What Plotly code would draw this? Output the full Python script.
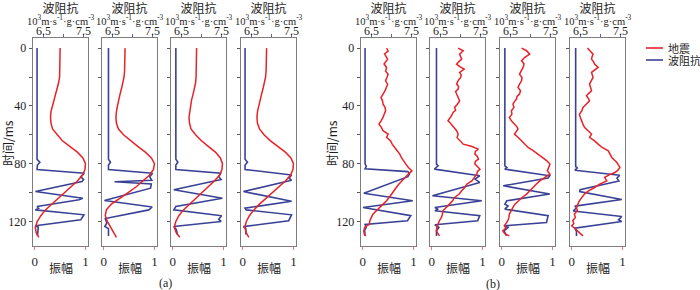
import plotly.graph_objects as go

# ---------------- data ----------------
# (a) seismic traces (amplitude) on a common time grid (ms)
A_T = [0, 4, 8, 12, 16, 20, 24, 28, 32, 36, 40, 44, 48, 52, 56, 60, 64, 68, 72, 76,
       80, 84, 88, 92, 96, 100, 104, 108, 112, 116, 120, 124, 128, 131]
A1_SEIS = [0.50, 0.50, 0.50, 0.50, 0.50, 0.49, 0.47, 0.44, 0.41, 0.37, 0.34, 0.32, 0.31, 0.32, 0.35, 0.44, 0.54,
           0.69, 0.84, 0.95, 1.00, 0.99, 0.94, 0.84, 0.71, 0.58, 0.45, 0.33, 0.21, 0.12, 0.05, 0.01, 0.03, 0.08]
A2_SEIS = [0.42, 0.42, 0.42, 0.42, 0.41, 0.40, 0.38, 0.35, 0.32, 0.29, 0.27, 0.25, 0.24, 0.25, 0.29, 0.39, 0.52,
           0.67, 0.82, 0.94, 1.00, 0.98, 0.90, 0.78, 0.64, 0.48, 0.31, 0.15, 0.05, 0.03, 0.07, 0.13, 0.20, 0.25]
A3_SEIS = [0.47, 0.47, 0.47, 0.47, 0.47, 0.46, 0.45, 0.43, 0.40, 0.37, 0.35, 0.33, 0.32, 0.33, 0.36, 0.45, 0.56,
           0.70, 0.84, 0.94, 0.98, 0.97, 0.92, 0.82, 0.70, 0.57, 0.44, 0.32, 0.21, 0.12, 0.06, 0.03, 0.07, 0.14]
A4_SEIS = [0.47, 0.47, 0.47, 0.47, 0.46, 0.45, 0.43, 0.40, 0.37, 0.34, 0.31, 0.29, 0.28, 0.29, 0.33, 0.42, 0.54,
           0.69, 0.84, 0.95, 1.00, 0.99, 0.94, 0.84, 0.71, 0.58, 0.45, 0.33, 0.22, 0.13, 0.07, 0.04, 0.07, 0.12]

# (a) impedance (10^3 m/s * g/cm^3)
A1_IMP_T = [0, 77, 79, 81, 84, 86.6, 89, 91, 92.4, 99.3, 103.9, 105, 109.7, 110.9, 112, 115.4, 118.9, 123, 124, 130]
A1_IMP = [6.34, 6.34, 6.41, 6.35, 6.34, 7.51, 7.42, 7.49, 7.45, 6.30, 7.47, 7.38, 6.34, 6.38, 6.30, 7.50, 7.42, 6.30, 6.37, 6.35]
A2_IMP_T = [0, 77, 79, 81, 84, 86.6, 89, 91.5, 92.5, 94, 97, 105.5, 110, 112, 118, 121, 123.5, 125, 130]
A2_IMP = [6.40, 6.40, 6.45, 6.40, 6.40, 7.49, 7.42, 7.47, 6.55, 7.46, 7.44, 6.30, 7.48, 7.40, 6.32, 6.36, 6.31, 6.40, 6.40]
A3_IMP_T = [0, 77, 79, 81, 84, 86.6, 89, 91, 98, 104, 109.7, 112, 116, 118.5, 120, 123.5, 125.5, 129]
A3_IMP = [6.36, 6.36, 6.41, 6.36, 6.36, 7.47, 7.42, 7.48, 6.31, 7.51, 6.36, 6.31, 7.49, 7.42, 7.48, 6.31, 6.37, 6.40]
A4_IMP_T = [0, 77, 79, 81, 84, 87.8, 90, 91.5, 99.3, 106, 110.8, 112, 115.4, 119.5, 123.6, 125, 129]
A4_IMP = [6.34, 6.34, 6.40, 6.34, 6.34, 7.49, 7.43, 7.49, 6.30, 7.49, 6.34, 6.37, 7.49, 7.42, 6.30, 6.36, 6.36]

# (b) seismic traces (amplitude)
B1_T = [0, 2, 4, 7.6, 11, 13.4, 16, 18, 20, 22.6, 25, 27.2, 29.5, 30.7, 34.2, 36.5, 38.8, 41, 43.4, 46,
        48, 50.3, 52.6, 55, 57.2, 59.5, 61.8, 64.2, 66.5, 68.8, 71, 73.4, 75.7, 78, 80.3, 82.6, 85, 87.2, 89.5, 91.9,
        94.2, 96.5, 98.8, 101, 103.4, 105.7, 108, 110.3, 112.6, 115, 117.2, 119.5, 122, 124, 126.5, 128.8, 130]
B1_SEIS = [0.47, 0.50, 0.43, 0.49, 0.42, 0.47, 0.45, 0.50, 0.48, 0.45, 0.49, 0.47, 0.44, 0.42, 0.36, 0.39, 0.40, 0.44, 0.45, 0.42,
           0.40, 0.36, 0.32, 0.37, 0.40, 0.50, 0.47, 0.55, 0.58, 0.63, 0.68, 0.73, 0.76, 0.80, 0.85, 0.90, 0.97, 0.90, 0.84, 0.76,
           0.71, 0.66, 0.62, 0.57, 0.52, 0.47, 0.40, 0.34, 0.28, 0.20, 0.17, 0.14, 0.13, 0.04, 0.02, 0.03, 0.06]
B2_T = [0, 1.8, 4.2, 6, 7.6, 9.5, 11.1, 13, 14.5, 16.8, 18.5, 20.3, 22.5, 24.9, 26.5, 28.4, 30, 31.8, 34, 36.5,
        39, 41.1, 43, 44.5, 46.8, 48.5, 50.3, 52, 53.8, 55.5, 57.2, 59.5, 62, 64.2, 66.5, 68, 69.9, 71.5, 73.4, 75,
        76.9, 78.5, 80.3, 82, 83.8, 85.5, 87.2, 89.5, 91.9, 94.2, 96.5, 98.8, 101, 103.4, 105.7, 108, 110.3, 112.6, 115, 117.2,
        119.5, 121.9, 124.2, 126.5, 128.5, 130]
B2_SEIS = [0.52, 0.62, 0.55, 0.57, 0.59, 0.53, 0.49, 0.56, 0.64, 0.55, 0.58, 0.57, 0.52, 0.49, 0.53, 0.52, 0.47, 0.49, 0.52, 0.55,
           0.50, 0.45, 0.47, 0.42, 0.39, 0.36, 0.32, 0.37, 0.42, 0.45, 0.49, 0.52, 0.50, 0.55, 0.62, 0.78, 0.92, 0.86, 0.85, 0.90,
           0.92, 0.86, 0.85, 0.90, 0.95, 0.90, 0.89, 0.84, 0.79, 0.69, 0.65, 0.59, 0.54, 0.45, 0.41, 0.35, 0.28, 0.22, 0.21, 0.19,
           0.15, 0.12, 0.10, 0.09, 0.12, 0.15]
B3_T = [0, 1.8, 4.2, 6.5, 8.8, 11, 13.4, 15.5, 18, 20.3, 22.6, 25, 27.2, 29.5, 31.8, 33.5, 35.3, 37, 38.8, 41,
        43.4, 45.7, 48, 50.3, 52.6, 54.5, 56.1, 58, 59.5, 62, 64.2, 66.5, 68.8, 71, 73.4, 75.7, 78, 80.3, 82.6, 85,
        87.2, 89.5, 91.9, 94.2, 96.5, 98.8, 101.1, 103.4, 105.7, 108, 110.3, 112.6, 114.9, 117.2, 119.5, 121.5, 123, 124.5, 126.5, 128.5,
        130]
B3_SEIS = [0.39, 0.49, 0.55, 0.45, 0.39, 0.44, 0.42, 0.38, 0.35, 0.40, 0.39, 0.35, 0.32, 0.37, 0.35, 0.30, 0.29, 0.25, 0.22, 0.24,
           0.19, 0.20, 0.15, 0.19, 0.25, 0.30, 0.32, 0.28, 0.25, 0.33, 0.39, 0.45, 0.52, 0.62, 0.72, 0.80, 0.89, 0.95, 0.92, 0.90,
           0.95, 0.85, 0.75, 0.68, 0.62, 0.55, 0.49, 0.40, 0.32, 0.26, 0.22, 0.19, 0.15, 0.14, 0.12, 0.08, 0.05, 0.08, 0.02, 0.06,
           0.15]
B4_T = [0, 1.8, 4.2, 6, 7.6, 9.5, 11.1, 13.4, 15, 16.8, 20.3, 22.6, 24.9, 27.2, 29.5, 31.5, 33, 35, 36.5, 39,
        41.1, 43.4, 45.7, 48, 50.3, 52.6, 54.9, 57.2, 59.5, 61.8, 64.2, 66.5, 68.8, 71.1, 73.4, 75.7, 77.5, 79.2, 81, 82.6,
        84.5, 86.1, 87.8, 89.5, 91.9, 94.2, 96.5, 98.8, 101.1, 103.4, 105.7, 108, 110.3, 112.6, 114.9, 117.2, 119.5, 121.5, 123, 124.5,
        126.5, 128.5, 130]
B4_SEIS = [0.31, 0.35, 0.42, 0.40, 0.39, 0.43, 0.45, 0.52, 0.45, 0.39, 0.42, 0.38, 0.35, 0.37, 0.39, 0.33, 0.29, 0.33, 0.35, 0.28,
           0.22, 0.20, 0.15, 0.17, 0.19, 0.22, 0.25, 0.32, 0.39, 0.35, 0.45, 0.52, 0.60, 0.72, 0.75, 0.79, 0.84, 0.89, 0.92, 0.95,
           0.91, 0.85, 0.74, 0.65, 0.69, 0.55, 0.45, 0.33, 0.25, 0.20, 0.15, 0.12, 0.09, 0.11, 0.05, 0.07, 0.02, 0.04, 0.00, 0.05,
           0.12, 0.17, 0.22]

# (b) impedance
B1_IMP_T = [0, 80, 82, 83.5, 85.5, 87, 89, 100.5, 105.7, 110.3, 116, 119.5, 122, 124, 126, 130]
B1_IMP = [6.34, 6.34, 6.37, 6.34, 7.40, 7.44, 7.40, 6.31, 7.52, 6.29, 7.47, 7.39, 6.34, 6.37, 6.33, 6.34]
B2_IMP_T = [0, 80.3, 81.5, 83.8, 88.4, 90.7, 93, 102.2, 105.7, 110.3, 111.5, 112.6, 116, 119.5, 122.3, 124.2, 126.5, 130]
B2_IMP = [6.40, 6.40, 6.44, 6.35, 7.47, 7.35, 7.47, 6.30, 7.52, 6.36, 6.44, 6.36, 7.47, 7.42, 6.36, 6.46, 6.40, 6.40]
B3_IMP_T = [0, 81.5, 82.6, 83.8, 88.4, 90, 95.3, 101, 105.7, 108, 109.2, 111.5, 116, 120.7, 123, 124.2, 126.5, 130]
B3_IMP = [6.36, 6.36, 6.41, 6.36, 7.47, 7.43, 6.32, 7.47, 6.41, 6.36, 6.44, 6.36, 7.43, 7.39, 6.36, 6.44, 6.34, 6.40]
B4_IMP_T = [0, 82, 83, 84.5, 88, 90, 92, 98, 99.3, 104.8, 109.4, 110.5, 112.8, 116.6, 118.9, 120, 124.6, 126.9, 130]
B4_IMP = [6.38, 6.38, 6.42, 6.36, 7.47, 7.40, 7.45, 6.49, 6.48, 7.52, 6.36, 6.40, 6.32, 7.52, 7.44, 7.52, 6.36, 6.40, 6.40]

Y_TICKS = [0, 40, 80, 120]
Y_MINOR_TICKS = [20, 60, 100]
AMP_TICKS = [0, 1]
IMP_TICKS = [6.5, 7.5]
IMP_MINOR_TICKS = [7.0]

# ---------------- style / layout ----------------
W, H = 700, 290
RED = "rgb(232,34,40)"
BLUE = "rgb(58,66,150)"
BOX = "rgb(125,125,125)"
TXT = "rgb(30,30,30)"
SERIF = "Liberation Serif, serif"
CJK = "Noto Sans CJK SC"
MIXED = "Liberation Serif, Noto Sans CJK SC, serif"

series = [
    (A_T, A1_SEIS, A1_IMP_T, A1_IMP),
    (A_T, A2_SEIS, A2_IMP_T, A2_IMP),
    (A_T, A3_SEIS, A3_IMP_T, A3_IMP),
    (A_T, A4_SEIS, A4_IMP_T, A4_IMP),
    (B1_T, B1_SEIS, B1_IMP_T, B1_IMP),
    (B2_T, B2_SEIS, B2_IMP_T, B2_IMP),
    (B3_T, B3_SEIS, B3_IMP_T, B3_IMP),
    (B4_T, B4_SEIS, B4_IMP_T, B4_IMP),
]
PX = [(33, 88), (102, 157), (171, 226), (241, 296), (361, 416), (430, 485), (500, 555), (570, 625)]
Y_DOM = [1 - 246 / H, 1 - 38 / H]

TOP_TITLE = ("<span style='font-family:Noto Sans CJK SC;font-size:12px'>波阻抗</span><br>"
             "<span style='font-size:10.5px'>10<sup>3</sup>m·s<sup>-1</sup>·g·cm<sup>-3</sup></span>")


def ann(text, xpx, ypx, size=12, family=CJK, **kw):
    d = dict(text=text, x=xpx / W, y=1 - ypx / H, xref="paper", yref="paper",
             xanchor="center", yanchor="middle", showarrow=False,
             font=dict(family=family, size=size, color=TXT))
    d.update(kw)
    return d


fig = go.Figure()
layout = {}
annotations = []

for k, (st, sv, it, iv) in enumerate(series):
    xm = "x" if k == 0 else f"x{2 * k + 1}"      # main: impedance (top)
    xo = f"x{2 * k + 2}"                          # overlay: amplitude (bottom)
    ya = "y" if k == 0 else f"y{k + 1}"
    fig.add_trace(go.Scatter(x=iv, y=it, xaxis=xm, yaxis=ya, mode="lines",
                             line=dict(color=BLUE, width=1.6), showlegend=False, hoverinfo="skip"))
    fig.add_trace(go.Scatter(x=sv, y=st, xaxis=xo, yaxis=ya, mode="lines",
                             line=dict(color=RED, width=1.5), showlegend=False, hoverinfo="skip"))
    dom = [PX[k][0] / W, PX[k][1] / W]
    layout["xaxis" if k == 0 else f"xaxis{2 * k + 1}"] = dict(
        domain=dom, anchor=ya, side="top", range=[6.24, 7.60],
        tickmode="array", tickvals=IMP_TICKS, showticklabels=False, ticks="outside", ticklen=3,
        tickcolor="rgb(90,100,170)", tickwidth=1,
        minor=dict(tickmode="array", tickvals=IMP_MINOR_TICKS, ticks="outside", ticklen=3,
                   tickcolor="rgb(90,100,170)", tickwidth=1, showgrid=False),
        showline=False, showgrid=False, zeroline=False, fixedrange=True, automargin=False)
    layout[f"xaxis{2 * k + 2}"] = dict(
        domain=dom, anchor=ya, overlaying=xm, side="bottom", range=[-0.035, 1.05],
        tickmode="array", tickvals=AMP_TICKS, ticks="outside", ticklen=3,
        tickcolor="rgb(240,120,120)", tickwidth=1,
        tickfont=dict(family=SERIF, size=13, color=TXT),
        showline=True, mirror=True, linecolor=BOX, linewidth=1.3,
        showgrid=False, zeroline=False, fixedrange=True, automargin=False)
    first = k in (0, 4)
    layout["yaxis" if k == 0 else f"yaxis{k + 1}"] = dict(
        domain=Y_DOM, anchor=xm, range=[137, -7],
        tickmode="array", tickvals=Y_TICKS, showticklabels=first,
        ticks="outside", ticklen=3, tickcolor="rgb(90,90,90)", tickwidth=1,
        minor=dict(tickmode="array", tickvals=Y_MINOR_TICKS, ticks="outside", ticklen=3,
                   tickcolor="rgb(90,90,90)", tickwidth=1, showgrid=False),
        tickfont=dict(family=SERIF, size=12, color=TXT),
        showline=True, mirror=True, linecolor=BOX, linewidth=1.3,
        showgrid=False, zeroline=False, fixedrange=True, automargin=False)

    cx = (PX[k][0] + PX[k][1]) / 2
    annotations.append(ann(TOP_TITLE, cx, 13, size=9, family=MIXED))
    annotations.append(ann("振幅", cx, 267, size=12))
    # top (impedance) tick labels, positioned through the impedance axis
    for v in IMP_TICKS:
        annotations.append(dict(text=f"{v:.1f}", x=v, xref=xm, y=1 - 31 / H, yref="paper",
                                xanchor="center", yanchor="middle", showarrow=False,
                                font=dict(family=SERIF, size=12, color=TXT)))

annotations.append(ann("时间/ms", 7, 143, size=12, textangle=-90))
annotations.append(ann("时间/ms", 331, 143, size=12, textangle=-90))
annotations.append(ann("(a)", 165, 283, size=12, family=SERIF))
annotations.append(ann("(b)", 493, 284, size=12, family=SERIF))

# legend (drawn compactly, as in the reference)
LEGEND = [("地震", RED, 48), ("波阻抗", BLUE, 60)]
shapes = []
for name, col, ypx in LEGEND:
    shapes.append(dict(type="line", xref="paper", yref="paper", x0=646 / W, x1=663 / W,
                       y0=1 - ypx / H, y1=1 - ypx / H, line=dict(color=col, width=1.6)))
    annotations.append(ann(name, 666, ypx, size=11, xanchor="left"))

fig.update_layout(**layout)
fig.update_layout(width=W, height=H, margin=dict(l=0, r=0, t=0, b=0, autoexpand=False),
                  paper_bgcolor="white", plot_bgcolor="white",
                  annotations=annotations, shapes=shapes, showlegend=False)

fig.write_html("out.html", config={"displayModeBar": False, "staticPlot": True},
               post_script="document.body.style.margin='0';document.body.style.padding='0';"
                           "document.documentElement.style.overflow='hidden';")
